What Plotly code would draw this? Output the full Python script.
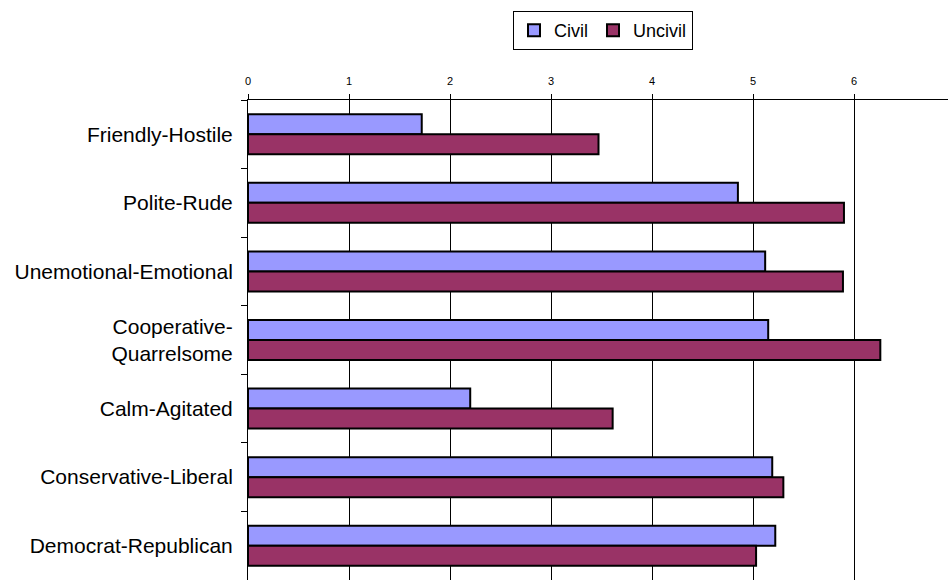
import plotly.graph_objects as go

categories = ["Friendly-Hostile", "Polite-Rude", "Unemotional-Emotional",
              "Cooperative-<br>Quarrelsome", "Calm-Agitated",
              "Conservative-Liberal", "Democrat-Republican"]
civil = [1.72, 4.85, 5.12, 5.15, 2.20, 5.19, 5.22]
uncivil = [3.47, 5.90, 5.89, 6.26, 3.61, 5.30, 5.03]
x_ticks = [0, 1, 2, 3, 4, 5, 6]

fig = go.Figure()
fig.add_trace(go.Bar(y=categories, x=civil, orientation="h", name="Civil",
                     marker=dict(color="#9999FF", line=dict(color="black", width=2))))
fig.add_trace(go.Bar(y=categories, x=uncivil, orientation="h", name="Uncivil",
                     marker=dict(color="#993366", line=dict(color="black", width=2))))

fig.update_layout(
    width=948, height=582,
    margin=dict(l=248, r=0, t=100, b=2, autoexpand=False),
    paper_bgcolor="white", plot_bgcolor="white",
    barmode="group", bargap=0.417, bargroupgap=0,
    font=dict(family="Liberation Sans, Arial, sans-serif", color="black"),
    legend=dict(orientation="h", xref="container", yref="container",
                x=513/948, y=1-11/582, xanchor="left", yanchor="top",
                bordercolor="black", borderwidth=1, font=dict(size=18),
                itemwidth=30, tracegroupgap=0),
    showlegend=True,
)
fig.update_xaxes(side="top", range=[0, 6.93], tickvals=x_ticks,
                 showgrid=True, gridcolor="black", gridwidth=1,
                 showline=True, linecolor="black", linewidth=1,
                 ticks="outside", ticklen=5, tickcolor="black",
                 tickfont=dict(size=11), zeroline=False, automargin=False,
                 ticklabelstandoff=5)
fig.update_yaxes(autorange="reversed", showgrid=False,
                 showline=True, linecolor="black", linewidth=1,
                 ticks="outside", tickson="boundaries", ticklen=6, tickcolor="black",
                 tickfont=dict(size=21), automargin=False, ticklabelstandoff=10)

fig.write_html("out.html", config={"displayModeBar": False},
               post_script="document.body.style.margin='0';document.body.style.overflow='hidden';")
